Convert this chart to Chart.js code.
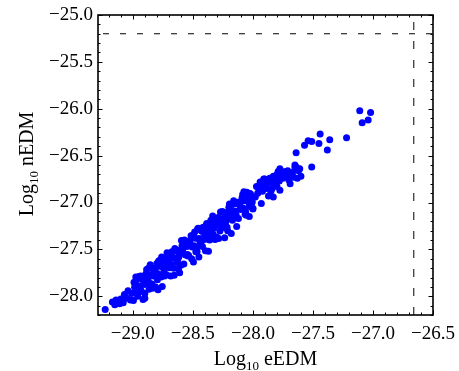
<!DOCTYPE html>
<html>
<head>
<meta charset="utf-8">
<script src="https://cdn.jsdelivr.net/npm/chart.js@4.4.0/dist/chart.umd.min.js"></script>
<style>
  html, body { margin: 0; padding: 0; background: #fff; }
  #wrap { width: 459px; height: 371px; }
</style>
</head>
<body>
<div id="wrap"><canvas id="grafico" width="459" height="371"></canvas></div>
<script>
// Log10 eEDM (x) and Log10 nEDM (y) for every point
const eEDM = [
  -29.23,-29.17,-29.15,-29.14,-29.11,-29.10,-29.08,-29.07,-29.05,-29.04,-29.02,-29.01,
  -28.99,-28.98,-28.97,-28.96,-28.95,-28.94,-28.93,-28.92,-28.91,-28.90,
  -28.89,-28.88,-28.87,-28.86,-28.85,-28.84,-28.83,-28.82,-28.81,-28.80,
  -28.79,-28.78,-28.77,-28.76,-28.75,-28.74,-28.73,-28.72,-28.71,-28.70,
  -28.69,-28.68,-28.67,-28.66,-28.65,-28.64,-28.63,-28.62,-28.61,-28.60,
  -28.59,-28.58,-28.57,-28.56,-28.55,-28.54,-28.53,-28.52,-28.51,-28.50,
  -28.49,-28.48,-28.47,-28.46,-28.45,-28.44,-28.43,-28.42,-28.41,-28.40,
  -28.39,-28.38,-28.37,-28.36,-28.35,-28.34,-28.33,-28.32,-28.31,-28.30,
  -28.29,-28.28,-28.27,-28.26,-28.25,-28.24,-28.23,-28.22,-28.21,-28.20,
  -28.19,-28.18,-28.17,-28.16,-28.15,-28.14,-28.13,-28.12,-28.11,-28.10,
  -28.09,-28.08,-28.07,-28.06,-28.05,-28.04,-28.03,-28.02,-28.01,-28.00,
  -28.985,-28.965,-28.945,-28.925,-28.905,-28.885,-28.865,-28.845,-28.825,-28.805,
  -28.785,-28.765,-28.745,-28.725,-28.705,-28.685,-28.665,-28.645,-28.625,-28.605,
  -28.585,-28.565,-28.545,-28.525,-28.505,-28.485,-28.465,-28.445,-28.425,-28.405,
  -28.385,-28.365,-28.345,-28.325,-28.305,-28.285,-28.265,-28.245,-28.225,-28.205,
  -28.185,-28.165,-28.145,-28.125,-28.105,-28.085,-28.065,-28.045,-28.025,-28.005,
  -28.995,-28.975,-28.955,-28.935,-28.915,-28.895,-28.875,-28.855,-28.835,-28.815,
  -28.795,-28.775,-28.755,-28.735,-28.715,-28.695,-28.675,-28.655,-28.635,-28.615,
  -28.595,-28.575,-28.555,-28.535,-28.515,-28.495,-28.475,-28.455,-28.435,-28.415,
  -28.395,-28.375,-28.355,-28.335,-28.315,-28.295,-28.275,-28.255,-28.235,-28.215,
  -28.195,-28.175,-28.155,-28.135,-28.115,-28.095,-28.075,-28.055,-28.035,-28.015,
  -28.03,-28.00,-28.18,-28.22,-28.37,-28.61,-28.62,-28.45,-28.79,-28.90,
  -27.97,-27.96,-27.98,-27.95,-27.93,-27.93,-27.91,-27.90,-27.89,-27.88,
  -27.87,-27.86,-27.85,-27.84,-27.83,-27.83,-27.82,-27.80,-27.79,-27.78,
  -27.775,-27.775,-27.76,-27.75,-27.73,-27.72,-27.69,-27.69,-27.66,-27.65,
  -27.65,-27.64,-27.63,-27.61,-27.64,-27.57,-27.54,-27.51,-27.51,-27.45,
  -27.44,-27.38,-27.36,-27.22,-27.11,-27.09,-27.04,-27.02,
  -27.94,-27.92,-27.90,-27.87,-27.85,-27.81,-27.80,-27.77,-27.74,-27.71,
  -27.70,-27.67,-27.62,-27.60
];
const nEDM = [
  -28.14,-28.06,-28.09,-28.04,-28.08,-28.03,-28.07,-27.98,-28.02,-27.94,-28.04,-27.97,
  -27.85,-27.96,-27.88,-28.00,-27.79,-27.89,-27.94,-27.81,-27.84,-27.97,
  -27.76,-27.84,-27.70,-27.86,-27.77,-27.87,-27.71,-27.76,-27.90,-27.65,
  -27.76,-27.68,-27.79,-27.58,-27.69,-27.73,-27.60,-27.77,-27.62,-27.66,
  -27.55,-27.66,-27.58,-27.70,-27.49,-27.59,-27.64,-27.51,-27.54,-27.67,
  -27.46,-27.54,-27.40,-27.56,-27.47,-27.57,-27.41,-27.46,-27.60,-27.35,
  -27.46,-27.38,-27.49,-27.28,-27.39,-27.43,-27.30,-27.47,-27.32,-27.36,
  -27.25,-27.36,-27.28,-27.40,-27.19,-27.29,-27.34,-27.21,-27.24,-27.37,
  -27.16,-27.24,-27.10,-27.26,-27.17,-27.27,-27.11,-27.16,-27.30,-27.05,
  -27.16,-27.08,-27.19,-26.98,-27.09,-27.13,-27.00,-27.17,-27.02,-27.06,
  -26.95,-27.06,-26.98,-27.10,-26.89,-26.99,-27.04,-26.91,-26.94,-27.07,
  -27.905,-27.815,-27.955,-27.815,-27.875,-27.715,-27.925,-27.785,-27.705,-27.795,
  -27.625,-27.795,-27.645,-27.675,-27.575,-27.785,-27.595,-27.505,-27.605,-27.515,
  -27.505,-27.415,-27.555,-27.415,-27.475,-27.315,-27.525,-27.385,-27.305,-27.395,
  -27.225,-27.395,-27.245,-27.275,-27.175,-27.385,-27.195,-27.105,-27.205,-27.115,
  -27.105,-27.015,-27.155,-27.015,-27.075,-26.915,-27.125,-26.985,-26.905,-26.995,
  -28.045,-27.795,-27.955,-27.785,-28.035,-27.775,-27.835,-27.665,-27.915,-27.715,
  -27.825,-27.615,-27.895,-27.785,-27.535,-27.695,-27.525,-27.775,-27.515,-27.575,
  -27.405,-27.655,-27.455,-27.565,-27.355,-27.635,-27.525,-27.275,-27.435,-27.265,
  -27.515,-27.255,-27.315,-27.145,-27.395,-27.195,-27.305,-27.095,-27.375,-27.265,
  -27.015,-27.175,-27.005,-27.255,-26.995,-27.055,-26.885,-27.135,-26.935,-27.045,
  -27.15,-27.06,-27.33,-27.27,-27.52,-27.75,-27.71,-27.58,-27.93,-28.02,
  -26.83,-26.90,-26.94,-26.86,-26.81,-27.01,-26.75,-26.75,-26.85,-26.80,
  -26.93,-26.74,-26.78,-26.85,-26.72,-26.94,-26.80,-26.70,-26.67,-26.77,
  -26.64,-26.87,-26.69,-26.74,-26.67,-26.70,-26.73,-26.80,-26.73,-26.60,
  -26.63,-26.62,-26.74,-26.64,-26.47,-26.39,-26.34,-26.35,-26.62,-26.37,
  -26.27,-26.44,-26.33,-26.31,-26.02,-26.15,-26.12,-26.04,
  -26.78,-26.88,-26.82,-26.76,-26.88,-26.74,-26.83,-26.72,-26.71,-26.66,
  -26.76,-26.68,-26.66,-26.72
];

const xTicks = [-29.0, -28.5, -28.0, -27.5, -27.0, -26.5];
const yTicks = [-28.0, -27.5, -27.0, -26.5, -26.0, -25.5, -25.0];
const xRange = [-29.29, -26.5];
const yRange = [-28.2, -25.0];

// experimental limits (dashed lines)
const eLimit = -26.66;
const nLimit = -25.2;

const fuente = 'Liberation Serif';

function etiqueta(v) {
  return (v < 0 ? '\u2212' : '') + Math.abs(v).toFixed(1);
}

// frame with inward ticks on all four sides, like the original
const marco = {
  id: 'marco',
  afterDraw(chart) {
    const ctx = chart.ctx;
    const a = chart.chartArea;
    const sx = chart.scales.x, sy = chart.scales.y;
    ctx.save();
    ctx.strokeStyle = '#000';
    ctx.lineWidth = 1;
    for (let k = Math.ceil(xRange[0] * 10); k <= Math.floor(xRange[1] * 10); k++) {
      const px = Math.round(sx.getPixelForValue(k / 10)) + 0.5;
      const len = k % 5 === 0 ? 4.5 : 2.5;
      ctx.beginPath();
      ctx.moveTo(px, a.bottom); ctx.lineTo(px, a.bottom - len);
      ctx.moveTo(px, a.top); ctx.lineTo(px, a.top + len);
      ctx.stroke();
    }
    for (let k = Math.ceil(yRange[0] * 10); k <= Math.floor(yRange[1] * 10); k++) {
      const py = Math.round(sy.getPixelForValue(k / 10)) + 0.5;
      const len = k % 5 === 0 ? 4.5 : 2.5;
      ctx.beginPath();
      ctx.moveTo(a.left, py); ctx.lineTo(a.left + len, py);
      ctx.moveTo(a.right, py); ctx.lineTo(a.right - len, py);
      ctx.stroke();
    }
    ctx.lineWidth = 1.6;
    ctx.strokeRect(a.left, a.top, a.right - a.left, a.bottom - a.top);

    // axis titles with subscript 10
    function titulo(base, sub, resto, cx, cy, rot) {
      ctx.save();
      ctx.translate(cx, cy);
      if (rot) ctx.rotate(-Math.PI / 2);
      ctx.fillStyle = '#000';
      ctx.textBaseline = 'alphabetic';
      ctx.textAlign = 'left';
      const fG = '20px "' + fuente + '"', fS = '13px "' + fuente + '"';
      ctx.font = fG; const w1 = ctx.measureText(base).width;
      ctx.font = fS; const w2 = ctx.measureText(sub).width;
      ctx.font = fG; const w3 = ctx.measureText(resto).width;
      let x = -(w1 + w2 + w3) / 2;
      ctx.font = fG; ctx.fillText(base, x, 0); x += w1;
      ctx.font = fS; ctx.fillText(sub, x, 4.5); x += w2;
      ctx.font = fG; ctx.fillText(resto, x, 0);
      ctx.restore();
    }
    titulo('Log', '10', ' eEDM', (a.left + a.right) / 2, 365, false);
    titulo('Log', '10', ' nEDM', 33, (a.top + a.bottom) / 2 - 1, true);
    ctx.restore();
  }
};

const ctx = document.getElementById('grafico').getContext('2d');
const miGrafico = new Chart(ctx, {
  type: 'scatter',
  data: {
    datasets: [
      {
        label: 'puntos',
        data: eEDM.map((x, i) => ({ x: x, y: nEDM[i] })),
        backgroundColor: '#0000ff',
        borderWidth: 0,
        pointRadius: 3.5,
        pointHoverRadius: 3.5
      },
      {
        label: 'eEDM limit',
        data: [{ x: eLimit, y: yRange[0] }, { x: eLimit, y: yRange[1] }],
        showLine: true,
        borderColor: '#000',
        borderWidth: 1,
        borderDash: [8, 11],
        pointRadius: 0
      },
      {
        label: 'nEDM limit',
        data: [{ x: xRange[0], y: nLimit }, { x: xRange[1], y: nLimit }],
        showLine: true,
        borderColor: '#000',
        borderWidth: 1,
        borderDash: [6, 11],
        borderDashOffset: -5,
        pointRadius: 0
      }
    ]
  },
  options: {
    responsive: false,
    animation: false,
    layout: { padding: { top: 15, right: 26, left: 0, bottom: 0 } },
    plugins: { legend: { display: false }, tooltip: { enabled: false } },
    scales: {
      x: {
        type: 'linear',
        min: xRange[0],
        max: xRange[1],
        grid: { display: false, drawTicks: false },
        border: { display: false },
        afterBuildTicks: s => { s.ticks = xTicks.map(v => ({ value: v })); },
        afterFit: s => { s.height = 56; s.paddingLeft = 0; s.paddingRight = 0; },
        ticks: {
          padding: 8,
          color: '#000',
          maxRotation: 0,
          font: { family: fuente, size: 19 },
          callback: v => etiqueta(v)
        }
      },
      y: {
        type: 'linear',
        min: yRange[0],
        max: yRange[1],
        grid: { display: false, drawTicks: false },
        border: { display: false },
        afterBuildTicks: s => { s.ticks = yTicks.map(v => ({ value: v })); },
        afterFit: s => { s.width = 98; s.paddingTop = 0; s.paddingBottom = 0; },
        ticks: {
          padding: 5,
          color: '#000',
          font: { family: fuente, size: 19 },
          callback: v => etiqueta(v)
        }
      }
    }
  },
  plugins: [marco]
});
</script>
</body>
</html>
